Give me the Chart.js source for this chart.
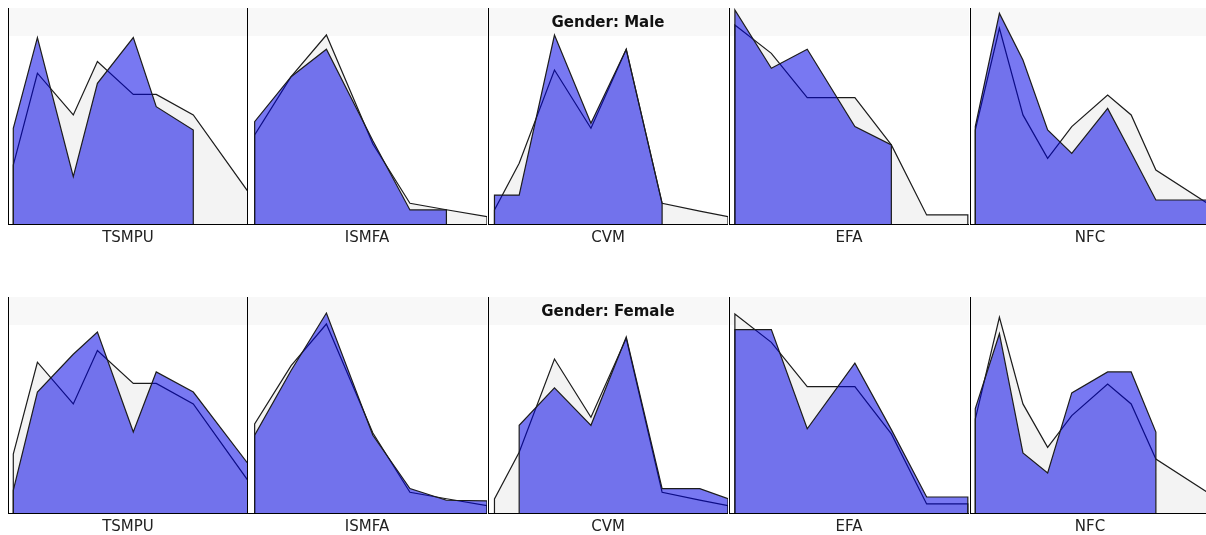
<!DOCTYPE html>
<html>
<head>
<meta charset="utf-8">
<script src="https://cdn.jsdelivr.net/npm/chart.js@4.4.1/dist/chart.umd.min.js"></script>
<style>
html, body { margin: 0; padding: 0; background: #fff; overflow: hidden; }
body { position: relative; width: 1206px; height: 535px; }
canvas { position: absolute; }
</style>
</head>
<body>
<script>
// panel order and the two gender rows
var variables = ["TSMPU", "ISMFA", "CVM", "EFA", "NFC"];
var genders = ["Male", "Female"];

// score positions and relative frequency (%)
var tsmpuX      = [1.01, 1.42, 2.03, 2.44, 3.05, 3.44, 4.07, 5.0];
var tsmpuAll    = [27.3, 69.8, 50.5, 75.2, 60.0, 60.0, 50.5, 15.0];
var tsmpuMale   = [44.3, 86.3, 21.9, 65.1, 86.3, 54.3, 43.5, null];
var tsmpuFemale = [10.5, 56.0, 73.5, 83.8, 37.5, 65.3, 56.0, 22.8];

var ismfaX      = [1.05, 1.67, 2.27, 3.06, 3.69, 4.31, 5.0];
var ismfaAll    = [41.2, 68.2, 87.5, 37.0, 9.6, 6.6, 3.4];
var ismfaMale   = [47.4, 68.2, 80.9, 38.5, 6.5, 6.5, null];
var ismfaFemale = [36.0, 66.0, 92.6, 36.0, 11.3, 5.9, 5.6];

var cvmX      = [1.03, 1.45, 2.05, 2.67, 3.27, 3.88, 4.52, 5.0];
var cvmAll    = [6.5, 28.1, 71.3, 44.3, 80.9, 9.6, 6.0, 3.4];
var cvmMale   = [13.4, 13.4, 87.5, 46.6, 80.9, 9.6, null, null];
var cvmFemale = [null, 40.6, 57.9, 40.6, 81.5, 11.3, 11.3, 6.6];

var efaX      = [1.02, 1.64, 2.25, 3.06, 3.68, 4.28, 4.98];
var efaAll    = [92.1, 79.0, 58.5, 58.5, 36.6, 4.2, 4.2];
var efaMale   = [99.1, 72.1, 80.9, 45.1, 36.6, null, null];
var efaFemale = [84.9, 84.9, 39.0, 69.4, 38.6, 7.4, 7.4];

var nfcX      = [1.01, 1.42, 1.82, 2.24, 2.65, 3.26, 3.66, 4.08, 5.0];
var nfcAll    = [43.5, 90.6, 50.5, 30.4, 45.1, 59.7, 50.5, 25.0, 8.8];
var nfcMale   = [45.1, 97.5, 75.9, 43.5, 32.7, 53.5, 33.0, 11.1, 11.1];
var nfcFemale = [48.3, 83.0, 27.8, 18.5, 55.6, 65.3, 65.3, 37.5, null];

var series = {
    TSMPU: {x: tsmpuX, all: tsmpuAll, Male: tsmpuMale, Female: tsmpuFemale},
    ISMFA: {x: ismfaX, all: ismfaAll, Male: ismfaMale, Female: ismfaFemale},
    CVM:   {x: cvmX,   all: cvmAll,   Male: cvmMale,   Female: cvmFemale},
    EFA:   {x: efaX,   all: efaAll,   Male: efaMale,   Female: efaFemale},
    NFC:   {x: nfcX,   all: nfcAll,   Male: nfcMale,   Female: nfcFemale}
};

var panelLeft = [7, 246, 487, 728, 969];
var rowTop = [8, 297];

// points of one series, closed down to zero at both ends
function toPoints(xs, ys){
    var pts = [];
    for(var i = 0; i < xs.length; i++){
        if(ys[i] != null) pts.push({x: xs[i], y: ys[i]});
    }
    pts.unshift({x: pts[0].x, y: 0});
    pts.push({x: pts[pts.length - 1].x, y: 0});
    return pts;
}

var bandPlugin = {
    id: "band",
    beforeDraw: function(chart, args, opts){
        var a = chart.chartArea, ctx = chart.ctx;
        ctx.save();
        ctx.fillStyle = "#f8f8f8";
        ctx.fillRect(a.left, a.top, a.right - a.left, 28);
        ctx.restore();
    },
    afterDatasetsDraw: function(chart, args, opts){
        if(!opts.text) return;
        var a = chart.chartArea, ctx = chart.ctx;
        ctx.save();
        ctx.fillStyle = "#111";
        ctx.font = "bold 15px 'DejaVu Sans'";
        ctx.textAlign = "center";
        ctx.textBaseline = "middle";
        ctx.fillText(opts.text, (a.left + a.right) / 2, a.top + 15);
        ctx.restore();
    }
};

for(var r = 0; r < genders.length; r++){
    for(var v = 0; v < variables.length; v++){
        var name = variables[v];
        var s = series[name];
        var cv = document.createElement("canvas");
        cv.width = 241;
        cv.height = 243;
        cv.style.left = panelLeft[v] + "px";
        cv.style.top = rowTop[r] + "px";
        document.body.appendChild(cv);

        new Chart(cv, {
            type: "line",
            data: {
                datasets: [
                    {label: genders[r], data: toPoints(s.x, s[genders[r]]), fill: "origin",
                     backgroundColor: "rgba(0, 0, 230, 0.53)", borderColor: "#1c1c1c", borderWidth: 1.2},
                    {label: "All", data: toPoints(s.x, s.all), fill: "origin",
                     backgroundColor: "#f3f3f3", borderColor: "#1c1c1c", borderWidth: 1.2}
                ]
            },
            options: {
                responsive: false,
                animation: false,
                events: [],
                layout: {padding: {left: 1, right: 0, top: 0, bottom: 0}},
                elements: {point: {radius: 0}, line: {tension: 0}},
                plugins: {
                    legend: {display: false},
                    tooltip: {enabled: false},
                    band: {text: v == 2 ? "Gender: " + genders[r] : ""}
                },
                scales: {
                    x: {type: "linear", min: 0.92, max: 5,
                        ticks: {display: false},
                        grid: {display: false, drawTicks: false},
                        border: {display: true, color: "#000", width: 1},
                        title: {display: true, text: name, color: "#222",
                                font: {family: "DejaVu Sans", size: 15}, padding: {top: 5, bottom: 4}}},
                    y: {min: 0, max: 100,
                        ticks: {display: false},
                        grid: {display: false, drawTicks: false},
                        border: {display: true, color: "#000", width: 1}}
                }
            },
            plugins: [bandPlugin]
        });
    }
}
</script>
</body>
</html>
